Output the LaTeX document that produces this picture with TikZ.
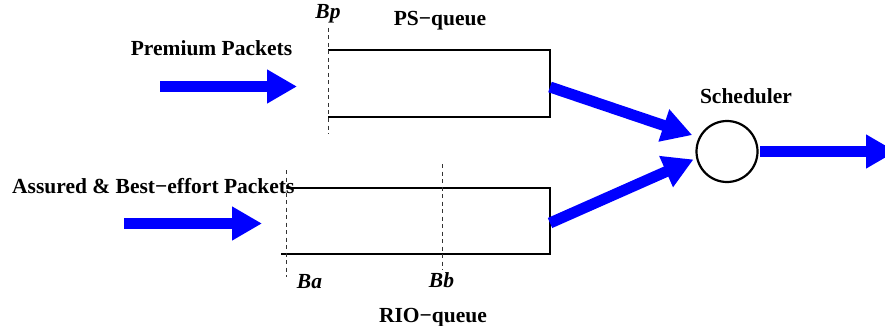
\documentclass[tikz,border=0pt]{standalone}
\usepackage{fontspec}
\setmainfont{Liberation Serif}
\usetikzlibrary{arrows.meta}
\definecolor{flowblue}{RGB}{0,0,255}
\begin{document}
\begin{tikzpicture}[x=1pt,y=-1pt,
  lbl/.style={font=\fontsize{21.5}{24}\selectfont\bfseries, inner sep=0pt, anchor=base},
  ilbl/.style={font=\fontsize{21.5}{24}\selectfont\bfseries\itshape, inner sep=0pt, anchor=base},
  qbox/.style={draw=none, inner sep=0pt, outer sep=0pt},
  qline/.style={line width=2.2pt, line join=miter},
  thresh/.style={black!80, line width=0.9pt, dash pattern=on 4pt off 3.5pt},
  flow/.style={flowblue, line width=11pt, -{Triangle[length=30pt,width=32pt]}},
]
\useasboundingbox (0,0) rectangle (885,326);
\clip (0,0) rectangle (885,326);

% queues
\node[qbox, minimum width=222pt, minimum height=67pt] (ps) at (439,83.5) {};
\node[qbox, minimum width=269pt, minimum height=66pt] (rio) at (415.5,221) {};
\draw[qline] (ps.north west) -- (ps.north east) -- (ps.south east) -- (ps.south west);
\draw[qline] ([xshift=5pt]rio.north west) -- (rio.north east) -- (rio.south east) -- (rio.south west);

% scheduler
\node[draw, circle, line width=2.2pt, minimum size=61pt, inner sep=0pt, outer sep=0pt] (sched) at (727,151.5) {};

% thresholds
\coordinate (bpt) at (328,28); \coordinate (bpb) at (328,134);
\coordinate (bat) at (286,170); \coordinate (bab) at (286,277);
\coordinate (bbt) at (442,164); \coordinate (bbb) at (442,270);
\draw[thresh] (bpt) -- (bpb);
\draw[thresh] (bat) -- (bab);
\draw[thresh] (bbt) -- (bbb);

% labels
\node[ilbl] (bp) at (328,19) {Bp};
\node[lbl] (psl) at (440,26) {PS−queue};
\node[lbl] (prem) at (211.5,56) {Premium Packets};
\node[lbl, anchor=base west] (abe) at (12,193) {Assured \& Best−effort Packets};
\node[ilbl] (ba) at (309.5,288) {Ba};
\node[ilbl] (bb) at (441.5,287) {Bb};
\node[lbl] (riol) at (433,322) {RIO−queue};
\node[lbl] (schl) at (746,103) {Scheduler};

% flows
\coordinate (pin) at (160,86.5);
\coordinate (ain) at (124,223.5);
\coordinate (out) at (896,151.5);
\draw[flow, shorten >=31pt] (pin) -- (pin -| ps.west);
\draw[flow, shorten >=19pt] (ain) -- (ain -| rio.west);
\draw[flow, shorten >=8pt] ([yshift=-3.5pt]ps.east) -- (sched.153);
\draw[flow, shorten >=4pt] ([yshift=-2pt]rio.east) -- (sched.192);
\draw[flow, shorten <=2.5pt] (sched.east) -- (out);
\end{tikzpicture}
\end{document}
